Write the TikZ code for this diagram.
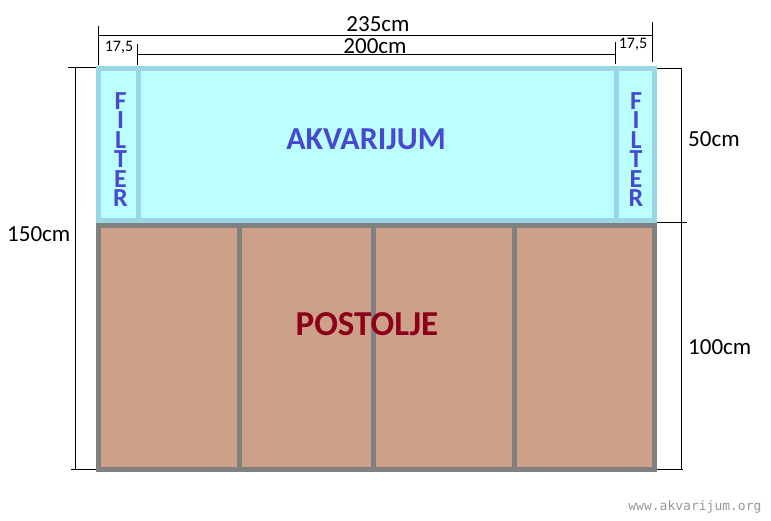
\documentclass[tikz,border=0pt]{standalone}
\usepackage{fontspec}
\setmainfont{Carlito}
\newfontfamily\webfont{DejaVu Sans Mono}
\usepackage{tikz}
\usetikzlibrary{positioning}

\definecolor{tankfill}{RGB}{187,255,255}
\definecolor{tankedge}{RGB}{155,214,230}
\definecolor{standfill}{RGB}{205,160,137}
\definecolor{standedge}{RGB}{128,128,128}
\definecolor{tanktext}{RGB}{72,72,208}
\definecolor{standtext}{RGB}{140,0,25}

\tikzset{
	dimline/.style={black,line width=1pt},
	dimtext/.style={font=\fontsize{23}{26}\selectfont,inner sep=0pt},
	smalltext/.style={font=\fontsize{16}{18}\selectfont,inner sep=0pt},
	filterletter/.style={font=\fontsize{26}{28}\selectfont\bfseries,text=tanktext,inner sep=0pt,text height=16pt,text depth=0pt,anchor=base},
}

\begin{document}
\begin{tikzpicture}[x=1pt,y=-1pt]
	\useasboundingbox[fill=white] (0,0) rectangle (771,520);
	% tank and filters
	\fill[tankfill] (98.5,68.5) rectangle (654.5,220.5);
	\draw[tankedge,line width=5pt] (98.5,68.5) rectangle (654.5,220.5);
	\foreach \x in {138.5,616.5}
	\draw[tankedge,line width=5pt] (\x,68.5) -- (\x,220.5);
	% stand
	\fill[standfill] (98.5,225.5) rectangle (654.5,469);
	\foreach \x in {239.5,373.5,514}
	\draw[standedge,line width=5pt] (\x,225.5) -- (\x,469);
	\draw[standedge,line width=5pt] (98.5,225.5) rectangle (654.5,469);
	% dimension points
	\coordinate (topL) at (98,35);
	\coordinate (topR) at (652,35);
	\coordinate (midL) at (137,54);
	\coordinate (midR) at (615,54);
	\coordinate (rightT) at (681,68);
	\coordinate (rightB) at (681,469);
	\coordinate (leftT) at (75,67);
	\coordinate (leftB) at (75,469);
	% top dimensions
	\draw[dimline] (topL) -- (topR);
	\draw[dimline] (98,26) -- (98,65);
	\draw[dimline] (652,22) -- (652,62);
	\draw[dimline] (midL) -- (midR);
	\draw[dimline] (137,44) -- (137,65);
	\draw[dimline] (615,42) -- (615,64);
	% right dimensions
	\draw[dimline] (rightT) -- (rightB);
	\draw[dimline] (657,68) -- (682,68);
	\draw[dimline] (657,222) -- (687,222);
	\draw[dimline] (657,469) -- (683,469);
	% left dimension
	\draw[dimline] (leftT) -- (leftB);
	\draw[dimline] (68,67) -- (96,67);
	\draw[dimline] (71,469) -- (96,469);
	% labels
	\node[dimtext,anchor=base] (w235) at (378,31) {235cm};
	\node[dimtext,anchor=base] (w200) at (375,53) {200cm};
	\node[smalltext,anchor=base] (wfL) at (119,51) {17,5};
	\node[smalltext,anchor=base] (wfR) at (633,48) {17,5};
	\node[dimtext,anchor=west] (h50) at (688,139) {50cm};
	\node[dimtext,anchor=west] (h100) at (688,347) {100cm};
	\node[dimtext,anchor=west] (h150) at (7,234) {150cm};
	\node[font=\fontsize{32}{35}\selectfont\bfseries,text=tanktext] (tank) at (366,139) {AKVARIJUM};
	\node[font=\fontsize{35}{38}\selectfont\bfseries,text=standtext] (stand) at (367,324) {POSTOLJE};
	\foreach \l [count=\i] in {F,I,L,T,E,R}{
		\node[filterletter] (filterL\i) at (120.5,{89.5+19.5*\i}) {\l};
		\node[filterletter] (filterR\i) at (636,{89.5+19.5*\i}) {\l};
	}
	\node[font=\fontsize{13}{15}\selectfont\webfont,text=black!40,anchor=east] (web) at (765,507) {www.akvarijum.org};
\end{tikzpicture}
\end{document}
